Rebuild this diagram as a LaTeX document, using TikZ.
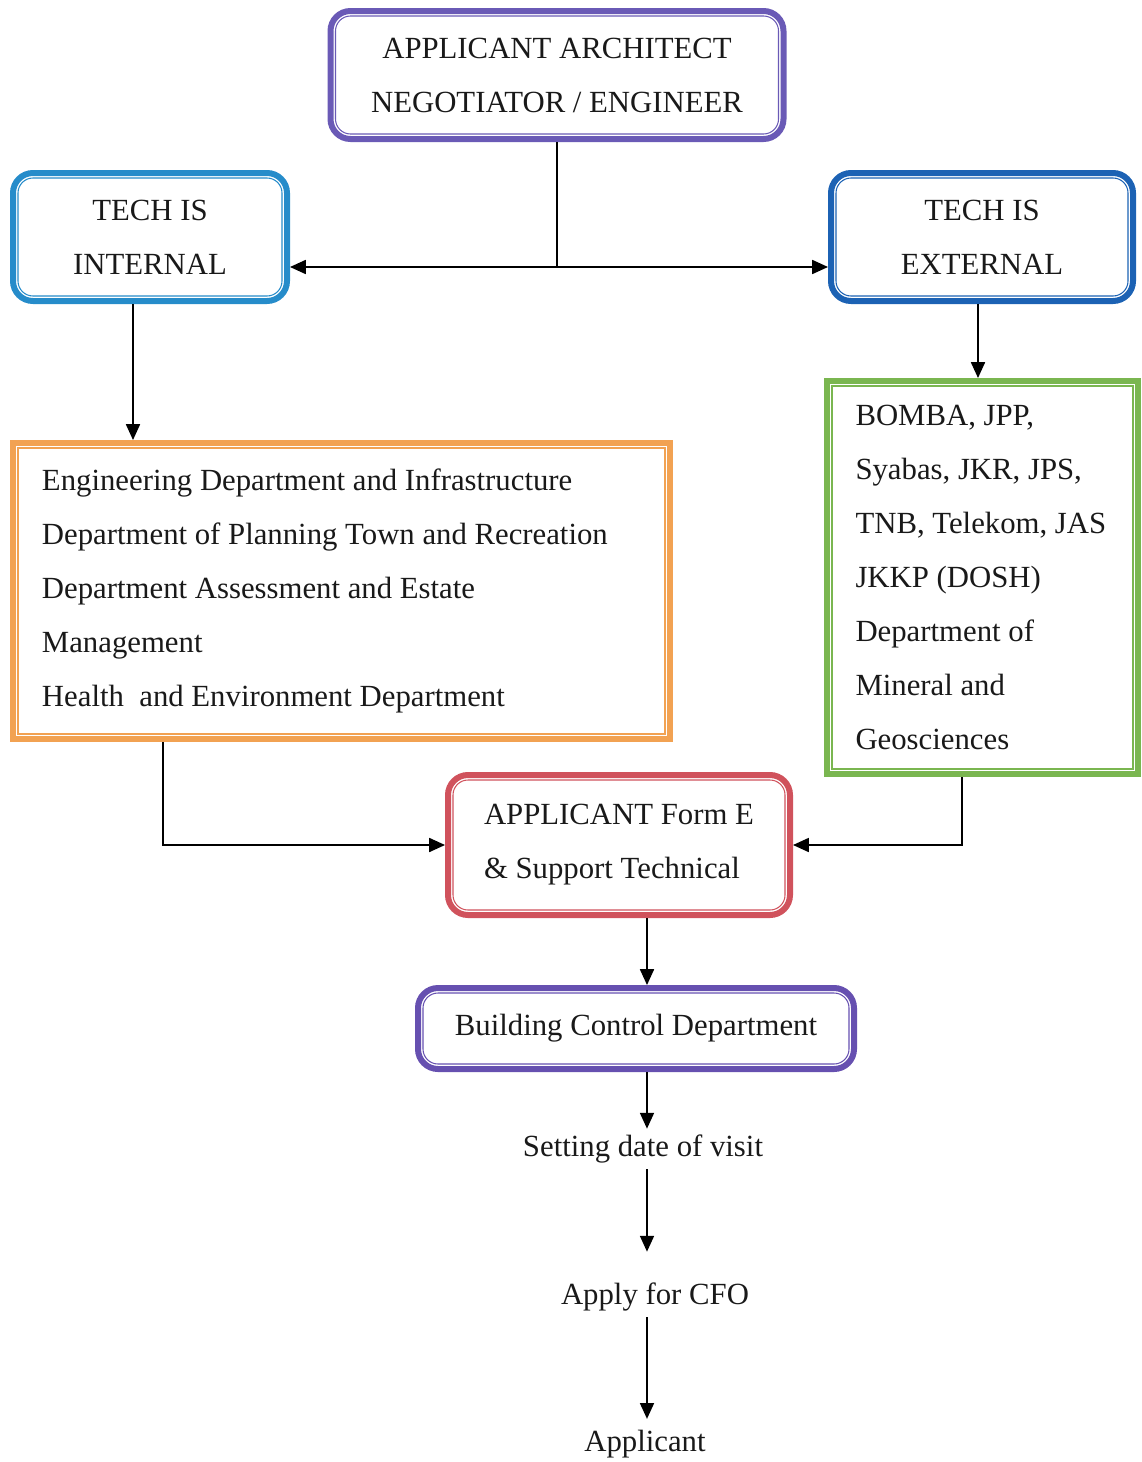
\documentclass[tikz,border=0pt]{standalone}
\usepackage{fontspec}
\setmainfont{Liberation Serif}
\usetikzlibrary{arrows.meta}

\definecolor{toppurple}{RGB}{106,90,182}
\definecolor{intblue}{RGB}{38,140,202}
\definecolor{extblue}{RGB}{28,98,180}
\definecolor{deptorange}{RGB}{242,162,82}
\definecolor{agencygreen}{RGB}{122,182,80}
\definecolor{formred}{RGB}{208,82,92}
\definecolor{bcdpurple}{RGB}{102,80,176}

\tikzset{
  every node/.style={font=\fontsize{17.5}{30.7}\selectfont, text=black!90},
  frame/.style={draw=#1, line width=0.12cm, inner sep=0pt, align=center},
  roundframe/.style={frame=#1, rounded corners=0.4cm},
  link/.style={line width=0.85pt, -{Triangle[length=9pt,width=8pt]}},
}

\begin{document}
\begin{tikzpicture}
	\useasboundingbox (0,0) rectangle (22.82,-29.24);

	\node[roundframe=toppurple, minimum width=9.06cm, minimum height=2.56cm] (top) at (11.14,-1.50) {APPLICANT ARCHITECT\\NEGOTIATOR / ENGINEER};
	\node[roundframe=intblue, minimum width=5.48cm, minimum height=2.56cm] (internal) at (3.00,-4.74) {TECH IS\\INTERNAL};
	\node[roundframe=extblue, minimum width=6.04cm, minimum height=2.56cm] (external) at (19.64,-4.74) {TECH IS\\EXTERNAL};
	\node[frame=deptorange, align=flush left, text width=11.98cm, inner xsep=0.58cm, minimum height=5.92cm] (depts) at (6.83,-11.82) {Engineering Department and Infrastructure\\Department of Planning Town and Recreation\\Department Assessment and Estate\\Management\\Health~ and Environment Department};
	\node[frame=agencygreen, align=flush left, text width=5.08cm, inner xsep=0.57cm, minimum height=7.86cm] (agencies) at (19.65,-11.55) {BOMBA, JPP,\\Syabas, JKR, JPS,\\TNB, Telekom, JAS\\JKKP (DOSH)\\Department of\\Mineral and\\Geosciences};
	\node[roundframe=formred, align=flush left, minimum width=6.84cm, minimum height=2.80cm] (form) at (12.38,-16.90) {APPLICANT Form E\\\& Support Technical};
	\node[roundframe=bcdpurple, minimum width=8.72cm, minimum height=1.62cm] (bcd) at (12.72,-20.57) {Building Control Department};
	\node (visit) at (12.86,-22.98) {Setting date of visit};
	\node (cfo) at (13.10,-25.94) {Apply for CFO};
	\node (appl) at (12.90,-28.88) {Applicant};

	% thin inner line of each frame
	\foreach \n/\c/\r in {top/toppurple/0.3, internal/intblue/0.3, external/extblue/0.3, depts/deptorange/0, agencies/agencygreen/0, form/formred/0.3, bcd/bcdpurple/0.3}
		\draw[\c, line width=0.6pt, rounded corners=\r cm] ([shift={(0.16,0.16)}]\n.south west) rectangle ([shift={(-0.16,-0.16)}]\n.north east);

	\coordinate (split) at (11.14,-5.34);
	\coordinate (axis) at (12.94,0);
	\draw[line width=0.85pt] (top.south) -- (split);
	\draw[link] (split) -- (internal.east |- split);
	\draw[link] (split) -- (external.west |- split);
	\draw[link] ([xshift=-0.34cm]internal.south) -- ([xshift=-0.34cm]internal.south |- depts.north);
	\draw[link] ([xshift=-0.08cm]external.south) -- ([xshift=-0.08cm]external.south |- agencies.north);
	\draw[link] ([xshift=-3.57cm]depts.south) |- (form.west);
	\draw[link] ([xshift=-0.41cm]agencies.south) |- (form.east);
	\draw[link] (form.south -| axis) -- (bcd.north -| axis);
	\draw[link] (bcd.south -| axis) -- (visit.north -| axis);
	\draw[link, shorten >=0.5cm] (visit.south -| axis) -- (cfo.north -| axis);
	\draw[link, shorten >=0.1cm] (cfo.south -| axis) -- (appl.north -| axis);
\end{tikzpicture}
\end{document}
